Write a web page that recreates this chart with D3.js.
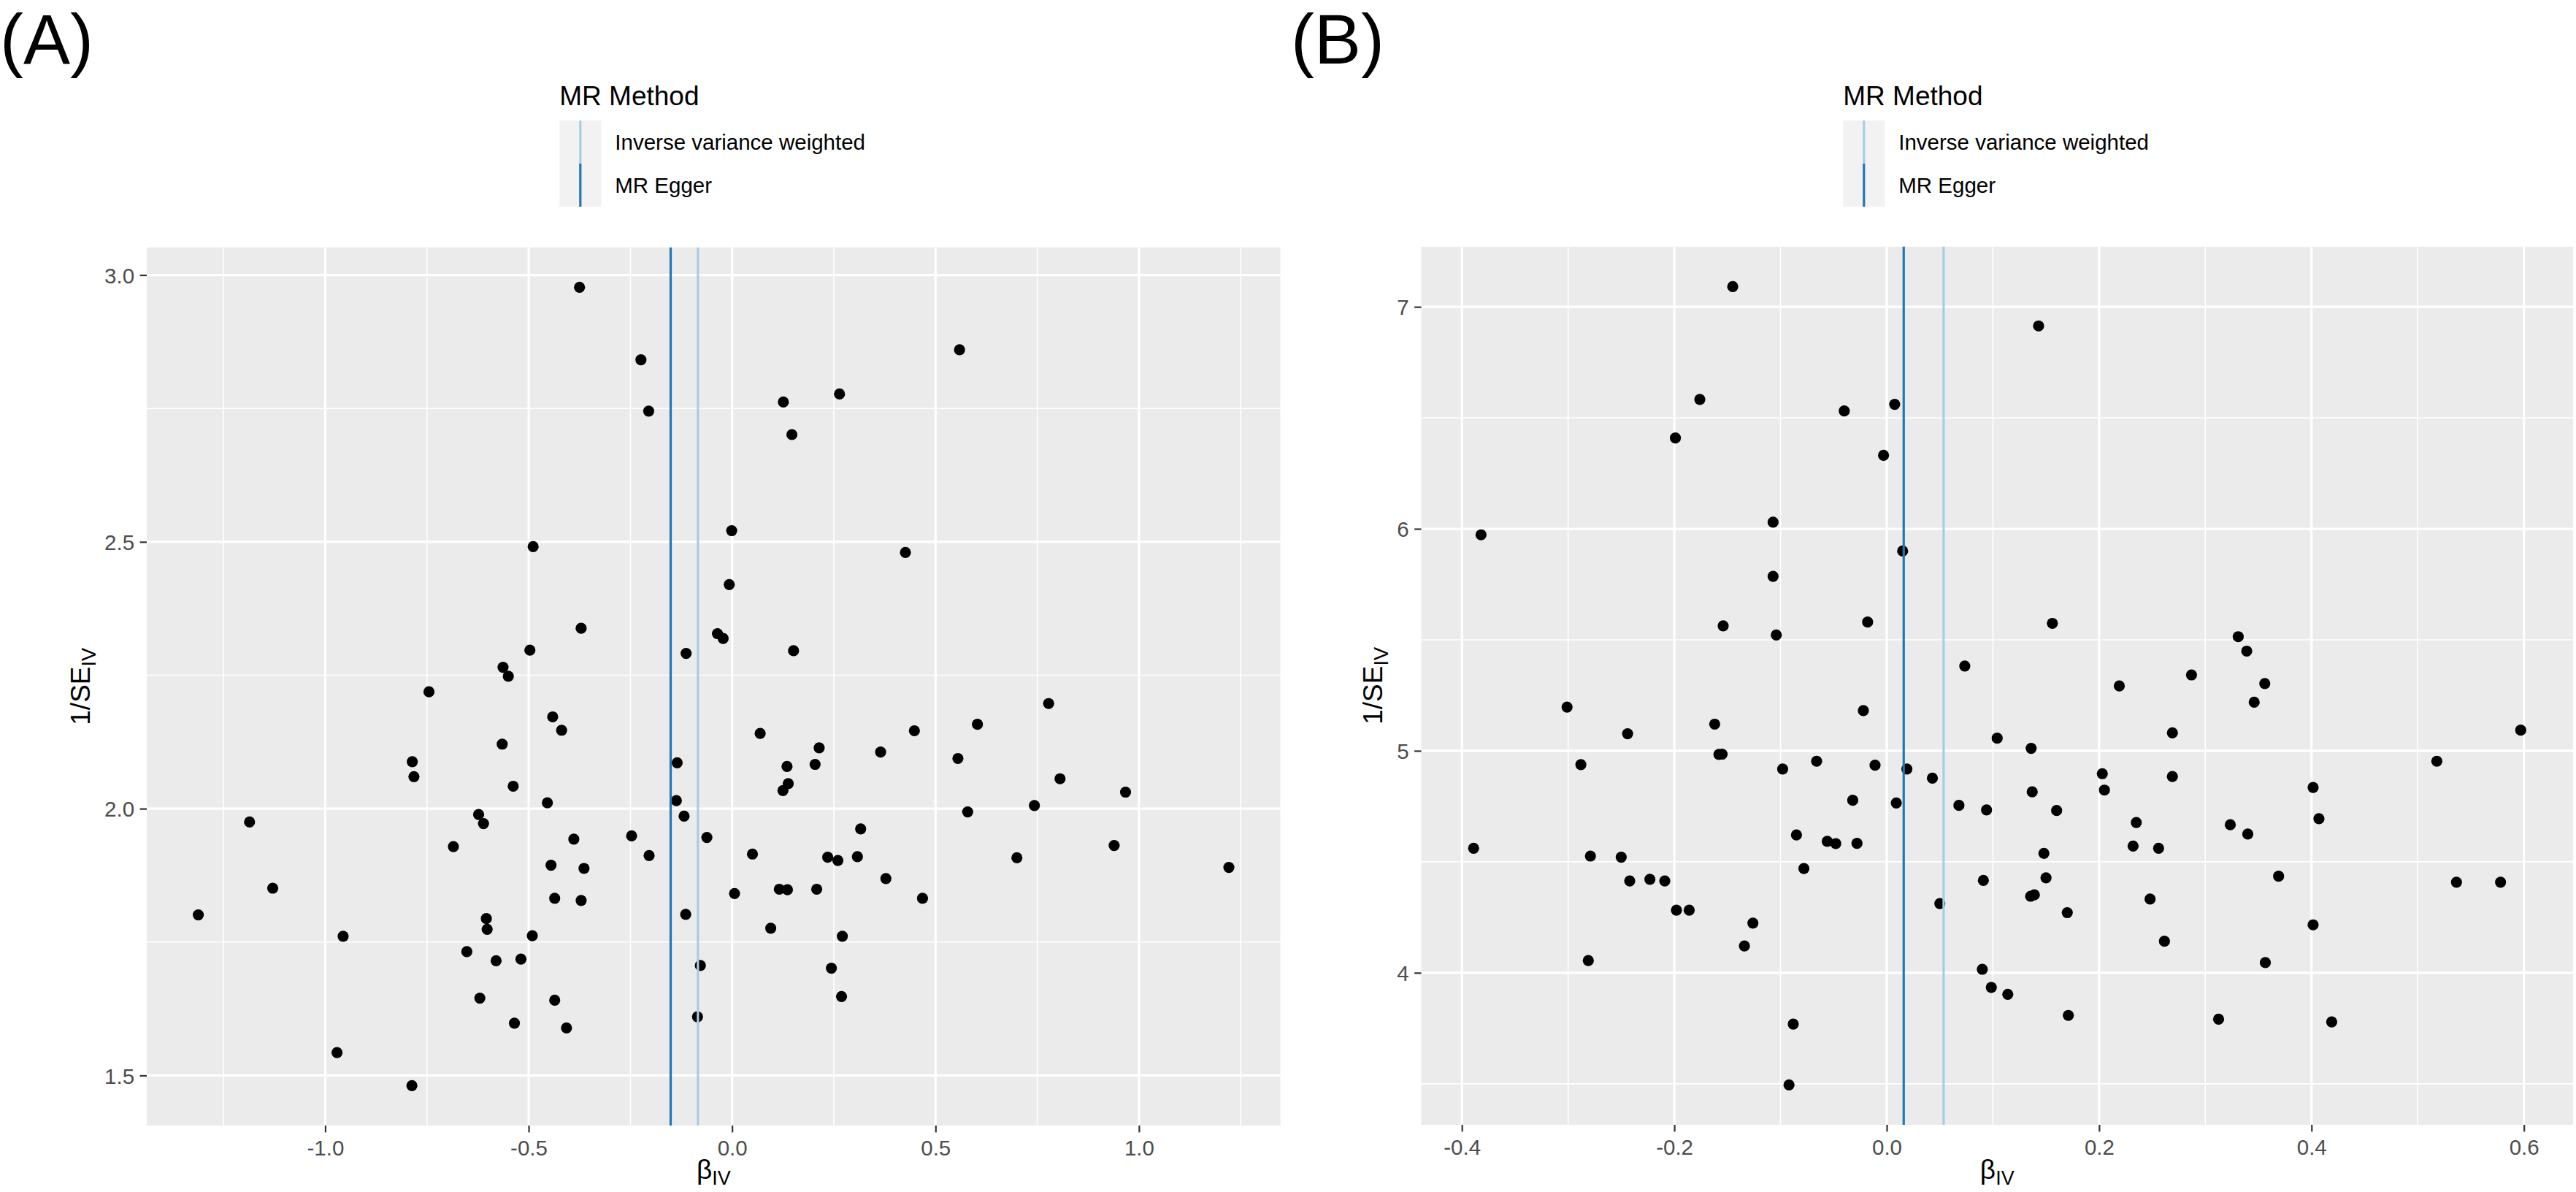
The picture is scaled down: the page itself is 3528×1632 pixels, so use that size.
<!DOCTYPE html>
<html><head><meta charset="utf-8">
<script src="https://cdn.jsdelivr.net/npm/d3@7/dist/d3.min.js"></script>
<style>body{margin:0;background:#fff}</style>
</head><body>
<svg id="chart" width="3528" height="1632" xmlns="http://www.w3.org/2000/svg"></svg>
<script>
// ---------------- data ----------------
const methodNames  = ["Inverse variance weighted", "MR Egger"];
const methodColors = ["#A6CEE3", "#1F78B4"];
const panelLabels  = ["(A)", "(B)"];
const legendTitle  = "MR Method";

// Panel A
const betaA = [-0.375,-0.224,-0.205,-0.489,-0.371,-0.497,-0.563,-0.550,-0.745,-0.113,-0.036,-0.022,
  0.559,0.126,0.264,0.147,-0.001,0.426,-0.007,0.151,
  -0.441,-0.419,-0.565,-0.786,-0.782,-0.538,-0.454,-0.135,-0.137,-0.118,-1.186,-0.623,-0.611,-0.247,-0.062,
  -0.389,-0.685,-0.204,-0.445,-0.364,-1.129,-0.436,-0.371,-1.312,-0.114,-0.604,-0.602,-0.956,-0.491,-0.652,
  -0.580,-0.519,-0.078,-0.620,-0.436,-0.535,-0.407,-0.085,-0.971,-0.787,
  0.778,0.603,0.448,0.069,0.214,0.365,0.555,0.135,0.204,0.138,0.125,0.806,0.967,0.743,0.579,0.316,0.939,
  0.050,0.235,0.260,0.308,0.700,1.221,0.378,0.006,0.116,0.136,0.208,0.468,0.095,0.271,0.244,0.269];
const invSeA = [2.977,2.841,2.745,2.491,2.338,2.297,2.265,2.248,2.219,2.291,2.328,2.319,
  2.860,2.762,2.777,2.701,2.521,2.480,2.420,2.296,
  2.172,2.147,2.121,2.088,2.060,2.042,2.011,2.086,2.015,1.986,1.975,1.989,1.972,1.949,1.946,
  1.943,1.929,1.912,1.894,1.888,1.851,1.832,1.828,1.801,1.802,1.794,1.774,1.761,1.762,1.732,
  1.715,1.718,1.706,1.645,1.641,1.598,1.589,1.610,1.543,1.481,
  2.197,2.158,2.146,2.141,2.114,2.106,2.094,2.079,2.083,2.047,2.034,2.056,2.031,2.006,1.994,1.962,1.931,
  1.915,1.909,1.903,1.910,1.908,1.890,1.869,1.841,1.849,1.848,1.849,1.832,1.776,1.761,1.701,1.648];
const methodBetaA = [-0.084, -0.151];
const xTicksA = [-1.0, -0.5, 0.0, 0.5, 1.0];
const yTicksA = [1.5, 2.0, 2.5, 3.0];

// Panel B
const betaB = [-0.145,-0.176,-0.040,0.0075,-0.199,-0.003,-0.107,-0.382,0.015,-0.107,-0.154,-0.104,-0.018,0.0735,
  0.143,0.156,0.331,0.339,0.287,0.219,0.356,
  -0.301,-0.022,-0.244,-0.162,-0.158,-0.155,-0.288,-0.098,-0.066,-0.011,0.019,0.043,-0.032,0.009,0.068,
  -0.389,-0.279,-0.250,-0.085,-0.056,-0.048,-0.028,-0.078,-0.242,-0.223,-0.209,0.050,-0.198,-0.186,
  -0.126,-0.134,-0.281,-0.088,-0.092,
  0.346,0.269,0.597,0.104,0.136,0.518,0.203,0.269,0.205,0.137,0.4015,0.094,0.160,0.235,0.3235,0.340,
  0.407,0.232,0.256,0.148,0.091,0.150,0.369,0.5365,0.578,0.1355,0.139,0.248,0.170,0.4015,0.2615,
  0.3565,0.090,0.0985,0.114,0.171,0.3125,0.419];
const invSeB = [7.091,6.583,6.531,6.561,6.409,6.331,6.030,5.973,5.900,5.786,5.563,5.522,5.580,5.382,
  6.914,5.574,5.514,5.449,5.342,5.292,5.303,
  5.197,5.181,5.077,5.120,4.984,4.985,4.938,4.918,4.953,4.935,4.918,4.877,4.777,4.765,4.754,
  4.561,4.526,4.521,4.621,4.592,4.582,4.583,4.470,4.414,4.421,4.414,4.312,4.282,4.282,
  4.224,4.121,4.055,3.769,3.495,
  5.219,5.081,5.093,5.057,5.011,4.953,4.897,4.884,4.823,4.815,4.835,4.734,4.731,4.677,4.667,4.625,
  4.694,4.571,4.561,4.538,4.416,4.428,4.435,4.408,4.408,4.345,4.351,4.332,4.271,4.216,4.142,
  4.046,4.016,3.934,3.903,3.808,3.791,3.779];
const methodBetaB = [0.0536, 0.016];
const xTicksB = [-0.4, -0.2, 0.0, 0.2, 0.4, 0.6];
const yTicksB = [4, 5, 6, 7];

// ---------------- layout ----------------
const FONT = "'Liberation Sans', Arial, 'DejaVu Sans', sans-serif";
const svg = d3.select("#chart");
svg.append("rect").attr("width", 3528).attr("height", 1632).attr("fill", "#ffffff");

const panels = [
  {label: panelLabels[0], labelX: 0, beta: betaA, invSe: invSeA, mBeta: methodBetaA,
   xTicks: xTicksA, yTicks: yTicksA, xFmt: ".1f", yFmt: ".1f",
   box: {left: 201, right: 1753.6, top: 338.7, bottom: 1541}, yTitleX: 123},
  {label: panelLabels[1], labelX: 1768, beta: betaB, invSe: invSeB, mBeta: methodBetaB,
   xTicks: xTicksB, yTicks: yTicksB, xFmt: ".1f", yFmt: "d",
   box: {left: 1946.5, right: 3524, top: 337.8, bottom: 1540}, yTitleX: 1893}
];

function expand(arr) {
  const [mn, mx] = d3.extent(arr);
  const e = (mx - mn) * 0.05;
  return [mn - e, mx + e];
}
function minorBreaks(ticks, domain) {
  const step = ticks[1] - ticks[0];
  const out = [];
  for (let i = -1; i < ticks.length; i++) {
    const v = (i < 0 ? ticks[0] - step / 2 : ticks[i] + step / 2);
    if (v > domain[0] && v < domain[1]) out.push(v);
  }
  return out;
}
const hy = f => (v => d3.format(f)(v).replace("\u2212", "-"));

panels.forEach(p => {
  const b = p.box;
  const x = d3.scaleLinear().domain(expand(p.beta.concat(p.mBeta))).range([b.left, b.right]);
  const y = d3.scaleLinear().domain(expand(p.invSe)).range([b.bottom, b.top]);
  const g = svg.append("g");

  // panel background
  g.append("rect").attr("x", b.left).attr("y", b.top)
    .attr("width", b.right - b.left).attr("height", b.bottom - b.top).attr("fill", "#EBEBEB");

  // minor grid
  g.selectAll(null).data(minorBreaks(p.xTicks, x.domain())).enter().append("line")
    .attr("x1", d => x(d)).attr("x2", d => x(d)).attr("y1", b.top).attr("y2", b.bottom)
    .attr("stroke", "#fff").attr("stroke-width", 1.6);
  g.selectAll(null).data(minorBreaks(p.yTicks, y.domain())).enter().append("line")
    .attr("y1", d => y(d)).attr("y2", d => y(d)).attr("x1", b.left).attr("x2", b.right)
    .attr("stroke", "#fff").attr("stroke-width", 1.6);
  // major grid
  g.selectAll(null).data(p.xTicks).enter().append("line")
    .attr("x1", d => x(d)).attr("x2", d => x(d)).attr("y1", b.top).attr("y2", b.bottom)
    .attr("stroke", "#fff").attr("stroke-width", 3.2);
  g.selectAll(null).data(p.yTicks).enter().append("line")
    .attr("y1", d => y(d)).attr("y2", d => y(d)).attr("x1", b.left).attr("x2", b.right)
    .attr("stroke", "#fff").attr("stroke-width", 3.2);

  // points
  const pts = p.beta.map((v, i) => ({b: v, s: p.invSe[i]}));
  g.selectAll(null).data(pts).enter().append("circle")
    .attr("cx", d => x(d.b)).attr("cy", d => y(d.s)).attr("r", 7.6).attr("fill", "#000");

  // method lines
  g.selectAll(null).data(p.mBeta).enter().append("line")
    .attr("x1", d => x(d)).attr("x2", d => x(d)).attr("y1", b.top).attr("y2", b.bottom)
    .attr("stroke", (d, i) => methodColors[i]).attr("stroke-width", 3.2);

  // axes
  const xAxis = d3.axisBottom(x).tickValues(p.xTicks).tickFormat(hy(p.xFmt)).tickSize(9.4).tickPadding(7.5);
  const yAxis = d3.axisLeft(y).tickValues(p.yTicks).tickFormat(hy(p.yFmt)).tickSize(9.4).tickPadding(7.5);
  const gx = g.append("g").attr("transform", `translate(0,${b.bottom})`).call(xAxis);
  const gy = g.append("g").attr("transform", `translate(${b.left},0)`).call(yAxis);
  [gx, gy].forEach(a => {
    a.select(".domain").remove();
    a.selectAll(".tick line").attr("stroke", "#333333").attr("stroke-width", 2.2);
    a.selectAll(".tick text").attr("fill", "#4D4D4D").style("font-family", FONT).style("font-size", "29.5px");
  });
  gx.selectAll(".tick text").attr("dy", null).attr("y", 41);
  gy.selectAll(".tick text").attr("dy", "0.36em");

  // axis titles
  const cx = (b.left + b.right) / 2, cy = (b.top + b.bottom) / 2;
  const xt = g.append("text").attr("x", cx).attr("y", 1614).attr("text-anchor", "middle")
    .style("font-family", FONT).style("font-size", "37px").attr("fill", "#000");
  xt.append("tspan").text("\u03B2");
  xt.append("tspan").attr("dy", 8).style("font-size", "27px").text("IV");
  const yt = g.append("text").attr("transform", `translate(${p.yTitleX},${cy}) rotate(-90)`)
    .attr("text-anchor", "middle").style("font-family", FONT).style("font-size", "37px").attr("fill", "#000");
  yt.append("tspan").text("1/SE");
  yt.append("tspan").attr("dy", 8).style("font-size", "27px").text("IV");

  // panel label
  svg.append("text").attr("x", p.labelX).attr("y", 87).style("font-family", FONT)
    .style("font-size", "96px").attr("fill", "#000").text(p.label);

  // legend
  const lx = cx - 211;
  const lg = svg.append("g");
  lg.append("text").attr("x", lx).attr("y", 144).style("font-family", FONT).style("font-size", "37px")
    .attr("fill", "#000").text(legendTitle);
  const keyH = 59, keyW = 57, keyTop = 165;
  methodNames.forEach((m, i) => {
    const ky = keyTop + i * keyH;
    lg.append("rect").attr("x", lx).attr("y", ky).attr("width", keyW).attr("height", keyH).attr("fill", "#F2F2F2");
    lg.append("line").attr("x1", lx + keyW / 2).attr("x2", lx + keyW / 2).attr("y1", ky).attr("y2", ky + keyH)
      .attr("stroke", methodColors[i]).attr("stroke-width", 3.2);
    lg.append("text").attr("x", lx + 76).attr("y", ky + keyH / 2).attr("dy", "0.36em")
      .style("font-family", FONT).style("font-size", "29.5px").attr("fill", "#000").text(m);
  });
});
</script>
</body></html>
